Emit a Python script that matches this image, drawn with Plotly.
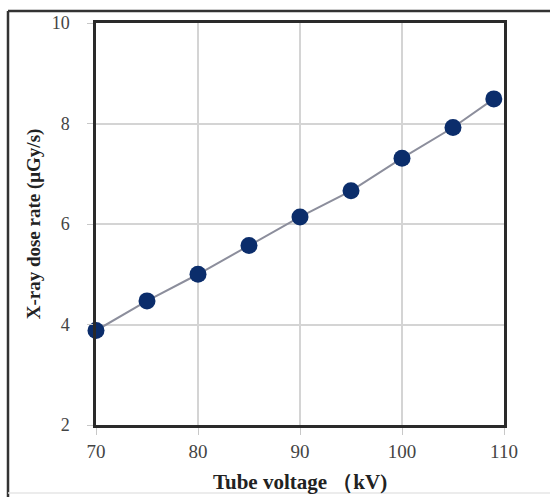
import plotly.graph_objects as go

tube_voltage = [70, 75, 80, 85, 90, 95, 100, 105, 109]
dose_rate = [3.88, 4.47, 5.00, 5.57, 6.14, 6.66, 7.31, 7.92, 8.49]
x_ticks = [70, 80, 90, 100, 110]
y_ticks = [2, 4, 6, 8, 10]

fig = go.Figure()
fig.add_trace(go.Scatter(
    x=tube_voltage, y=dose_rate, mode="lines+markers",
    line=dict(color="#8c8e9c", width=2),
    marker=dict(color="#0b2d6b", size=17, line=dict(width=0)),
    cliponaxis=False, showlegend=False,
))

serif = "Liberation Serif, Times New Roman, serif"
fig.update_layout(
    width=550, height=497,
    margin=dict(l=96, r=46, t=23, b=72),
    paper_bgcolor="white", plot_bgcolor="white",
    font=dict(family=serif, color="#444444", size=16),
    xaxis=dict(
        range=[70, 110], tickvals=x_ticks, ticktext=[str(v) for v in x_ticks],
        showgrid=True, gridcolor="#d4d4d4", gridwidth=1.5,
        showline=True, linecolor="#2a2a2a", linewidth=2.5, mirror=True,
        ticks="outside", ticklen=7, tickcolor="#c8c8c8", tickwidth=1,
        tickfont=dict(size=19, color="#444444"), zeroline=False, automargin=False,
        title=dict(text="<b>Tube voltage （kV)</b>", font=dict(size=21, color="#222222"), standoff=14),
    ),
    yaxis=dict(
        range=[2, 10], tickvals=y_ticks, ticktext=[str(v) for v in y_ticks],
        showgrid=True, gridcolor="#d4d4d4", gridwidth=1.5,
        showline=True, linecolor="#2a2a2a", linewidth=2.5, mirror=True,
        ticks="outside", ticklen=6, tickcolor="#c8c8c8", tickwidth=1,
        ticklabelstandoff=14, automargin=False,
        tickfont=dict(size=18, color="#444444"), zeroline=False,
        title=dict(text="<b>X-ray dose rate (μGy/s)</b>", font=dict(size=19, color="#222222"), standoff=7),
    ),
    shapes=[
        dict(type="line", xref="paper", yref="paper", x0=-88/408, x1=1.2, y0=1 + 12/402, y1=1 + 12/402,
             line=dict(color="#333333", width=2.5)),
        dict(type="line", xref="paper", yref="paper", x0=-88/408, x1=-88/408, y0=1 + 12/402, y1=-0.2,
             line=dict(color="#333333", width=2.5)),
        dict(type="line", xref="paper", yref="paper", x0=-88/408, x1=1.2, y0=-68/402, y1=-68/402,
             line=dict(color="#e6e6e6", width=1.5)),
    ],
)

fig.write_html("out.html")
